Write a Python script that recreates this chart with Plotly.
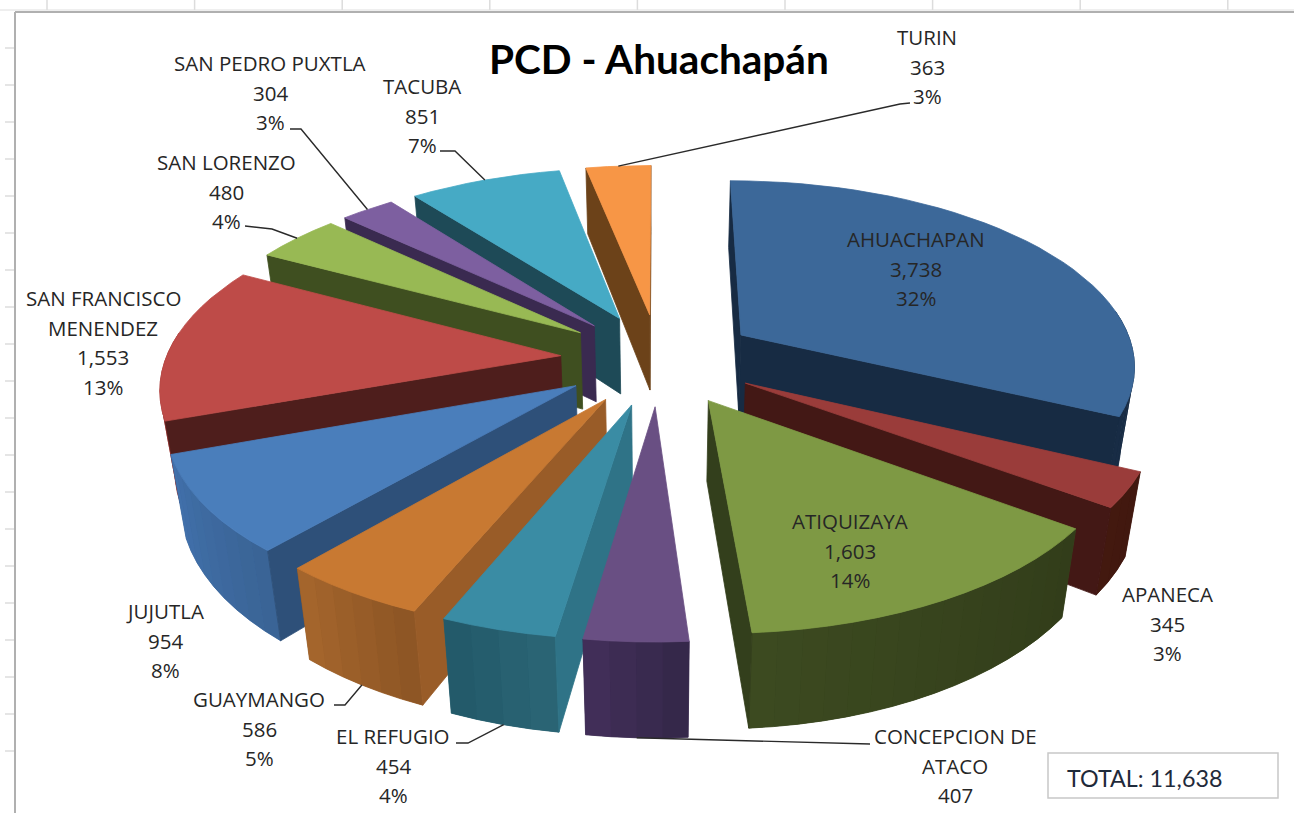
import math
import plotly.graph_objects as go

# ---------- data ----------
names = ["AHUACHAPAN", "APANECA", "ATIQUIZAYA", "CONCEPCION DE ATACO", "EL REFUGIO", "GUAYMANGO",
         "JUJUTLA", "SAN FRANCISCO MENENDEZ", "SAN LORENZO", "SAN PEDRO PUXTLA", "TACUBA", "TURIN"]
values = [3738, 345, 1603, 407, 454, 586, 954, 1553, 480, 304, 851, 363]
title_text = "PCD - Ahuachapán"

# ---------- styles ----------
top_colors = ["#3c6899", "#9a3c3a", "#7e9944", "#694f83", "#3a8ca4", "#c87932",
              "#4a7ebb", "#be4b48", "#98b954", "#7d5fa0", "#46aac5", "#f79646"]
wall_colors = ["#172b43", "#431815", "#333f1c", "#3d2e50", "#2f7387", "#995c28",
               "#2e5079", "#4e1e1c", "#3f4f20", "#3a2a50", "#1e4a57", "#6c4219"]
rim_a = ["#152a40", "#41180f", "#323d1a", "#35284a", "#2a6474", "#8e5625",
         "#3a6496", "#9a3a38", "#3f4f20", "#3a2a50", "#1e4a57", "#6c4219"]
rim_b = ["#182c45", "#43190f", "#3c4a20", "#412e58", "#235a6a", "#a4652c",
         "#4170aa", "#a03d3a", "#3f4f20", "#3a2a50", "#1e4a57", "#6c4219"]
label_lines = {
    0: (["AHUACHAPAN"], 916, 239), 1: (["APANECA"], 1167, 594), 2: (["ATIQUIZAYA"], 850, 521),
    3: (["CONCEPCION DE", "ATACO"], 955, 736), 4: (["EL REFUGIO"], 393, 736), 5: (["GUAYMANGO"], 259, 699),
    6: (["JUJUTLA"], 165, 611), 7: (["SAN FRANCISCO", "MENENDEZ"], 103, 298), 8: (["SAN LORENZO"], 226, 162),
    9: (["SAN PEDRO PUXTLA"], 270, 63), 10: (["TACUBA"], 422, 86), 11: (["TURIN"], 927, 37),
}
LINE_H = 29.6
# leader: elbow points near the label, depth level on the slice (0 top edge, 1 bottom edge)
leaders = {
    3: ([(870, 744)], 1), 4: ([(456, 743), (468, 743)], 1), 5: ([(334, 705), (345, 705)], 1),
    8: ([(245, 226), (272, 229)], 0), 9: ([(290, 129), (301, 129)], 0),
    10: ([(440, 151), (455, 151)], 0), 11: ([(910, 103), (900, 104)], 0),
}

# ---------- projection ----------
CX, CY, RX, RY, H, P, Q, EXPL = 659, 359, 395, 184, 78, 0.15, 0.03, 0.25


def project(u, v, z):
    s = 1 / (1 - P * v)
    sx = 1 / (1 - P * v + Q * z)
    return CX + RX * u * sx, CY + RY * v * s + H * z * s


def shade(a, b, t):
    ca = [int(a[i:i + 2], 16) for i in (1, 3, 5)]
    cb = [int(b[i:i + 2], 16) for i in (1, 3, 5)]
    return "#%02x%02x%02x" % tuple(round(x + (y - x) * t) for x, y in zip(ca, cb))


total = sum(values)
slices = []
acc = 0.0
for i, val in enumerate(values):
    a0 = 2 * math.pi * acc / total
    acc += val
    a1 = 2 * math.pi * acc / total
    slices.append((i, a0, a1))


def point(sl, r, a, z):
    _, a0, a1 = sl
    m = (a0 + a1) / 2
    u = r * math.sin(a) + EXPL * math.sin(m)
    v = -r * math.cos(a) - EXPL * math.cos(m)
    return project(u, v, z)


fig = go.Figure()


def poly(pts, color, edge=True):
    xs = [p[0] for p in pts] + [pts[0][0]]
    ys = [p[1] for p in pts] + [pts[0][1]]
    if edge:
        fig.add_trace(go.Scatter(x=xs, y=ys, mode="lines", fill="toself", fillcolor=color,
                                 line=dict(color=color, width=0.8), hoverinfo="skip", showlegend=False))
    else:
        fig.add_trace(go.Scatter(x=xs, y=ys, mode="none", fill="toself", fillcolor=color,
                                 hoverinfo="skip", showlegend=False))


order = sorted(slices, key=lambda s: -math.cos((s[1] + s[2]) / 2))
for sl in order:
    i, a0, a1 = sl
    n = max(3, int((a1 - a0) / math.radians(3)))
    angs = [a0 + (a1 - a0) * k / n for k in range(n + 1)]
    # outer rim: one solid underlay, then thin strips so that the shading changes gradually
    vis = [k for k in range(n) if -math.cos((angs[k] + angs[k + 1]) / 2) > -0.12]
    if vis:
        tops = [point(sl, 1, angs[k], 0) for k in range(vis[0], vis[-1] + 2)]
        bots = [point(sl, 1, angs[k], 1) for k in range(vis[0], vis[-1] + 2)]
        poly(tops + bots[::-1], shade(rim_a[i], rim_b[i], 0.5))
        for k in vis:
            col = shade(rim_a[i], rim_b[i], k / max(1, n - 1))
            poly([point(sl, 1, angs[k], 0), point(sl, 1, angs[k + 1], 0),
                  point(sl, 1, angs[k + 1], 1), point(sl, 1, angs[k], 1)], col, edge=False)
    # radial walls
    for a, normal in ((a0, a0 - math.pi / 2), (a1, a1 + math.pi / 2)):
        if -math.cos(normal) > -0.02:
            poly([point(sl, 0, a, 0), point(sl, 1, a, 0), point(sl, 1, a, 1), point(sl, 0, a, 1)], wall_colors[i])
    # top face
    poly([point(sl, 0, a0, 0)] + [point(sl, 1, a, 0) for a in angs], top_colors[i])

# leader lines
for i, (elbows, z) in leaders.items():
    sl = slices[i]
    end = point(sl, 1, (sl[1] + sl[2]) / 2, z)
    pts = elbows + [end]
    fig.add_trace(go.Scatter(x=[p[0] for p in pts], y=[p[1] for p in pts], mode="lines",
                             line=dict(color="#2a2a2a", width=1.4), hoverinfo="skip", showlegend=False))

# labels
annotations = []


def text(x, y, s, size, family="Open Sans", color="#262626", bold=False, anchor="center"):
    annotations.append(dict(x=x, y=y, xref="x", yref="y", text=f"<b>{s}</b>" if bold else s,
                            showarrow=False, xanchor=anchor, yanchor="middle",
                            font=dict(family=family, size=size, color=color)))


for i, (lines, x, y0) in label_lines.items():
    rows = lines + [f"{values[i]:,}", f"{round(100 * values[i] / total)}%"]
    for k, row in enumerate(rows):
        yy = y0 + k * LINE_H
        if yy < 813:
            text(x, yy, row, 20.5)

text(659, 58, title_text, 40.5, family="Lato", color="#000000", bold=True)
text(1065, 778, f"TOTAL: {total:,}", 23.3, family="Lato", color="#1f2a3a", anchor="left")

# sheet furniture
shapes = []
for k in range(9):
    xk = 47 + 147.6 * k
    shapes.append(dict(type="line", x0=xk, x1=xk, y0=0, y1=10, line=dict(color="#dcdcdc", width=1.5)))
for k in range(21):
    yk = 11 + 37 * k
    if yk > 20:
        shapes.append(dict(type="line", x0=5, x1=15, y0=yk, y1=yk, line=dict(color="#dcdcdc", width=1.5)))
shapes.append(dict(type="line", x0=0, x1=1294, y0=10, y1=10, line=dict(color="#dedede", width=1)))
shapes.append(dict(type="line", x0=15, x1=1294, y0=12, y1=12, line=dict(color="#b0b0b0", width=2)))
shapes.append(dict(type="line", x0=15, x1=15, y0=12, y1=813, line=dict(color="#b0b0b0", width=2)))
shapes.append(dict(type="rect", x0=1048, x1=1278, y0=753, y1=798, line=dict(color="#c8c8c8", width=1.5),
                   fillcolor="#ffffff"))

fig.update_layout(
    width=1294, height=813, margin=dict(l=0, r=0, t=0, b=0),
    paper_bgcolor="white", plot_bgcolor="white", showlegend=False,
    xaxis=dict(range=[0, 1294], visible=False, fixedrange=True),
    yaxis=dict(range=[813, 0], visible=False, fixedrange=True),
    shapes=shapes, annotations=annotations,
)
fig.write_html("out.html", config={"displayModeBar": False},
               post_script="document.body.style.margin='0';document.body.style.overflow='hidden';")
